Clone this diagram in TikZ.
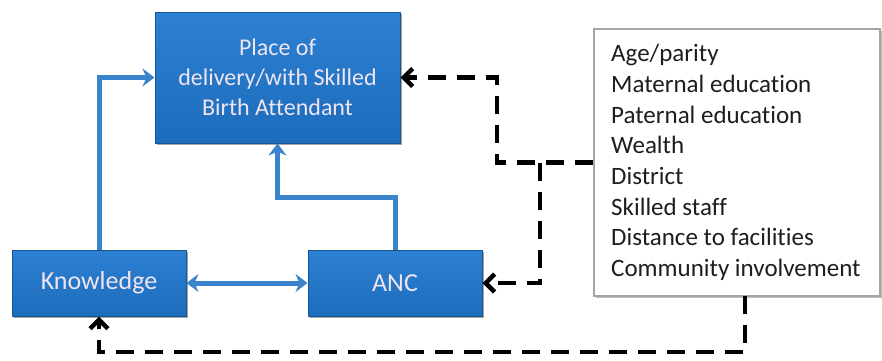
\documentclass[tikz,border=0pt]{standalone}
\usepackage{fontspec}
\setmainfont{Carlito}[Ligatures=NoCommon]
\usetikzlibrary{arrows.meta,shadows}
\definecolor{boxblue}{RGB}{28,108,188}
\definecolor{boxtop}{RGB}{45,128,210}
\definecolor{boxedge}{RGB}{22,86,150}
\definecolor{lineblue}{RGB}{58,132,205}
\definecolor{boxtext}{RGB}{240,228,240}
\definecolor{listgray}{RGB}{165,165,165}
\definecolor{listtext}{RGB}{30,30,30}
\tikzset{
  bluebox/.style={rectangle, draw=boxedge, line width=1pt, top color=boxtop, bottom color=boxblue,
    text=boxtext, align=center, inner sep=0pt,
    drop shadow={shadow xshift=2pt, shadow yshift=-2pt, opacity=0.35, fill=black}},
  listbox/.style={rectangle, draw=listgray, line width=2pt, fill=white, inner sep=0pt,
    drop shadow={shadow xshift=2pt, shadow yshift=-2pt, opacity=0.25, fill=black}},
  bluearrow/.style={draw=lineblue, line width=5pt, -{Stealth[length=12pt,width=18pt,inset=4pt]}},
  bluedouble/.style={draw=lineblue, line width=5pt, {Stealth[length=12pt,width=18pt,inset=4pt]}-{Stealth[length=12pt,width=18pt,inset=4pt]}},
  dasharrow/.style={draw=black, line width=4.5pt, dash pattern=on 18pt off 11pt,
    -{Straight Barb[length=9pt,width=18pt,line width=4.5pt]}},
}
\begin{document}
\begin{tikzpicture}[x=1pt,y=-1pt]
\useasboundingbox (0,0) rectangle (882,360);
\node[bluebox, minimum width=245pt, minimum height=131pt, font=\fontsize{24}{30}\selectfont] (place) at (277.5,77.5)
  {Place of\\delivery/with Skilled\\Birth Attendant};
\node[bluebox, minimum width=174pt, minimum height=66pt, font=\fontsize{26}{30}\selectfont] (know) at (99,283) {Knowledge};
\node[bluebox, minimum width=174pt, minimum height=66pt, font=\fontsize{26}{30}\selectfont] (anc) at (395,283) {ANC};
\node[listbox, minimum width=286pt, minimum height=267pt] (list) at (737,162.5) {};
\node[anchor=west, align=left, text=listtext, inner sep=0pt, font=\fontsize{25}{30.7}\selectfont] (ltext) at (611,162.5)
  {Age/parity\\Maternal education\\Paternal education\\Wealth\\District\\Skilled staff\\Distance to facilities\\Community involvement};
% blue connectors
\draw[bluearrow] (know.north) |- (place.west);
\draw[bluearrow] (anc.north) |- (277.5,197) -- (place.south);
\draw[bluedouble] (know.east) -- (anc.west);
% dashed connectors
\coordinate (jn) at (540,162.5);
\coordinate (lb) at (745,296);
\coordinate (bt) at (745,352);
\draw[dasharrow] (list.west) -- (497,162.5) |- (place.east);
\draw[dasharrow] (jn) |- (anc.east);
\draw[dasharrow] (lb) -- (bt) -| (know.south);
\end{tikzpicture}
\end{document}
